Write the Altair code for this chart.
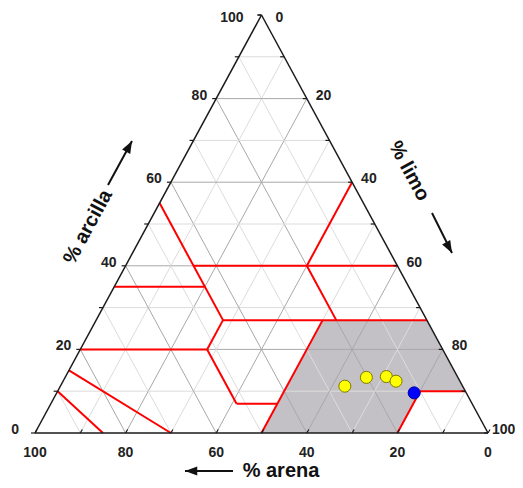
import altair as alt
import pandas as pd

# ---------------- data (ternary: sand %, clay %; silt = 100 - sand - clay) ----------------
sample_sand = [26.0, 20.2, 15.7, 14.1]
sample_clay = [11.2, 13.3, 13.5, 12.4]
blue_sand = [11.5]
blue_clay = [9.6]

# texture class boundaries (start sand, start clay) -> (end sand, end clay)
bnd_s1 = [45, 45, 20, 20, 65, 45, 45, 80, 52, 52, 50, 10, 10, 85, 90]
bnd_c1 = [55, 40, 40, 40, 35, 27, 27, 20, 20, 7, 0, 10, 10, 15, 10]
bnd_s2 = [45, 0, 0, 20, 45, 0, 52, 52, 52, 43, 23, 0, 20, 70, 85]
bnd_c2 = [27, 40, 60, 27, 35, 27, 20, 20, 7, 7, 27, 10, 0, 0, 0]

# shaded class (franco limoso)
poly_sand = [50, 23, 0, 0, 10, 20]
poly_clay = [0, 27, 27, 10, 10, 0]

grid_vals = [10, 20, 30, 40, 50, 60, 70, 80, 90]
tick_vals = [0, 10, 20, 30, 40, 50, 60, 70, 80, 90, 100]
label_vals = [0, 20, 40, 60, 80, 100]

W, H = 453, 418
PX, PY = W / 100.0, H / 100.0
FONT = "Liberation Sans"


def tx(s, c):
    return 100 - s - c / 2.0


def X(f="x"):
    return alt.X(f, type="quantitative", scale=alt.Scale(domain=[0, 100], nice=False, zero=False), axis=None)


def Y(f="y"):
    return alt.Y(f, type="quantitative", scale=alt.Scale(domain=[0, 100], nice=False, zero=False), axis=None)


# ---------------- shaded polygon as area ----------------
pX = [tx(s, c) for s, c in zip(poly_sand, poly_clay)]
pY = list(poly_clay)
n = len(pX)
rows = []
for xv in sorted(set(pX)):
    ys = []
    for i in range(n):
        x1, y1 = pX[i], pY[i]
        x2, y2 = pX[(i + 1) % n], pY[(i + 1) % n]
        if min(x1, x2) <= xv <= max(x1, x2):
            if x1 == x2:
                ys += [y1, y2]
            else:
                ys.append(y1 + (y2 - y1) * (xv - x1) / (x2 - x1))
    rows.append({"x": xv, "lo": min(ys), "hi": max(ys)})
poly_df = pd.DataFrame(rows)
area = alt.Chart(poly_df).mark_area(color="#c3c1c6", opacity=1).encode(
    x=X(), y=Y("hi"), y2=alt.Y2("lo"))

# ---------------- grid ----------------
g = []
for k in grid_vals:
    col = "#a8a8a8" if k % 20 == 0 else "#dcdcdc"
    g.append((tx(100 - k, k), k, tx(0, k), k, col))                 # clay = k
    g.append((tx(k, 0), 0, tx(k, 100 - k), 100 - k, col))           # sand = k
    g.append((tx(100 - k, 0), 0, tx(0, 100 - k), 100 - k, col))     # silt = k
grid_df = pd.DataFrame(g, columns=["x", "y", "x2", "y2", "c"])
grid = alt.Chart(grid_df).mark_rule(strokeWidth=1).encode(
    x=X(), y=Y(), x2=alt.X2("x2"), y2=alt.Y2("y2"), color=alt.Color("c:N", scale=None))

# ---------------- class boundaries ----------------
b_df = pd.DataFrame({
    "x": [tx(s, c) for s, c in zip(bnd_s1, bnd_c1)],
    "y": bnd_c1,
    "x2": [tx(s, c) for s, c in zip(bnd_s2, bnd_c2)],
    "y2": bnd_c2,
})
bounds = alt.Chart(b_df).mark_rule(color="#ff0000", strokeWidth=2).encode(
    x=X(), y=Y(), x2=alt.X2("x2"), y2=alt.Y2("y2"))

# ---------------- outline ----------------
o_df = pd.DataFrame({"x": [0, 100, 50], "y": [0, 0, 100], "x2": [100, 50, 0], "y2": [0, 100, 0]})
outline = alt.Chart(o_df).mark_rule(color="#1a1a1a", strokeWidth=1.5).encode(
    x=X(), y=Y(), x2=alt.X2("x2"), y2=alt.Y2("y2"))

# ---------------- ticks ----------------
tl = 4.0
t = []
for k in tick_vals:
    x0, y0 = tx(100 - k, k), k                     # clay axis (left edge)
    t.append((x0, y0, x0 - tl / PX, y0))
    x0, y0 = tx(0, 100 - k), 100 - k               # silt axis (right edge)
    t.append((x0, y0, x0 - tl / PX, y0))
    x0, y0 = tx(k, 0), 0                           # sand axis (bottom)
    t.append((x0, y0, x0 + 0.5 * tl / PX, y0 + 0.866 * tl / PY))
tick_df = pd.DataFrame(t, columns=["x", "y", "x2", "y2"])
ticks = alt.Chart(tick_df).mark_rule(color="#1a1a1a", strokeWidth=1.2).encode(
    x=X(), y=Y(), x2=alt.X2("x2"), y2=alt.Y2("y2"))

# ---------------- points ----------------
pts_df = pd.DataFrame({
    "x": [tx(s, c) for s, c in zip(sample_sand + blue_sand, sample_clay + blue_clay)],
    "y": sample_clay + blue_clay,
    "f": ["#ffff00"] * len(sample_sand) + ["#0000ff"] * len(blue_sand),
    "s": ["#7a7a00"] * len(sample_sand) + ["#0000a0"] * len(blue_sand),
})
points = alt.Chart(pts_df).mark_point(filled=True, size=145, opacity=1, strokeWidth=1).encode(
    x=X(), y=Y(), fill=alt.Fill("f:N", scale=None), stroke=alt.Stroke("s:N", scale=None))

# ---------------- tick labels ----------------
left_off = {0: 16, 100: 18}
right_off = {0: 14, 100: 4}
left_dy = {100: -2.5}
right_dy = {0: -2.5}
lab_left = pd.DataFrame({
    "x": [tx(100 - k, k) - left_off.get(k, 9) / PX for k in label_vals],
    "y": [k + left_dy.get(k, 3) / PY for k in label_vals],
    "t": [str(k) for k in label_vals],
})
lab_right = pd.DataFrame({
    "x": [tx(0, 100 - k) + right_off.get(k, 9) / PX for k in label_vals],
    "y": [100 - k + right_dy.get(k, 3) / PY for k in label_vals],
    "t": [str(k) for k in label_vals],
})
lab_bottom = pd.DataFrame({
    "x": [tx(k, 0) for k in label_vals],
    "y": [-20 / PY] * len(label_vals),
    "t": [str(k) for k in label_vals],
})
tstyle = dict(font=FONT, fontSize=14, fontWeight="bold", color="#222222", baseline="middle")
L1 = alt.Chart(lab_left).mark_text(align="right", **tstyle).encode(x=X(), y=Y(), text="t:N")
L2 = alt.Chart(lab_right).mark_text(align="left", **tstyle).encode(x=X(), y=Y(), text="t:N")
L3 = alt.Chart(lab_bottom).mark_text(align="center", **tstyle).encode(x=X(), y=Y(), text="t:N")


# ---------------- axis titles + arrows ----------------
def px2d(px, py):
    return (px - 35) / PX, (433 - py) / PY


titles = [("% arcilla", 88, 227, 298.4), ("% limo", 409, 171, 61.6), ("% arena", 281, 471, 0)]
ttl_layers = []
for txt, px, py, ang in titles:
    dx, dy = px2d(px, py)
    r = {"x": dx, "y": dy, "t": txt}
    ttl_layers.append(
        alt.Chart(pd.DataFrame([r])).mark_text(font=FONT, fontSize=20, fontWeight="bold", color="#111111",
                                               align="center", baseline="middle", angle=ang)
        .encode(x=X(), y=Y(), text="t:N"))

arrows = [((108, 185), (132, 141), 28.4), ((432, 213), (452, 253), 151.6), ((233, 471), (185, 471), 270)]
ar = []
for (sx, sy), (ex, ey), ang in arrows:
    a0 = px2d(sx, sy)
    a1 = px2d(ex, ey)
    ar.append({"x": a0[0], "y": a0[1], "x2": a1[0], "y2": a1[1], "a": ang})
ar_df = pd.DataFrame(ar)
shafts = alt.Chart(ar_df).mark_rule(color="#111111", strokeWidth=2).encode(
    x=X(), y=Y(), x2=alt.X2("x2"), y2=alt.Y2("y2"))
heads = alt.Chart(ar_df).mark_point(shape="M0,0 L0.75,2 L-0.75,2 Z", filled=True, size=150,
                                    color="#111111", opacity=1).encode(
    x=X("x2"), y=Y("y2"), angle=alt.Angle("a:Q", scale=None))

chart = alt.layer(area, grid, bounds, outline, ticks, points, L1, L2, L3, shafts, heads, *ttl_layers).properties(
    width=W, height=H,
    autosize=alt.AutoSizeParams(type="none"),
    padding={"left": 27, "top": 7, "right": 27, "bottom": 47},
    background="white",
).configure_view(stroke=None)

chart.save("out.html", embed_options={"renderer": "svg", "actions": False})
